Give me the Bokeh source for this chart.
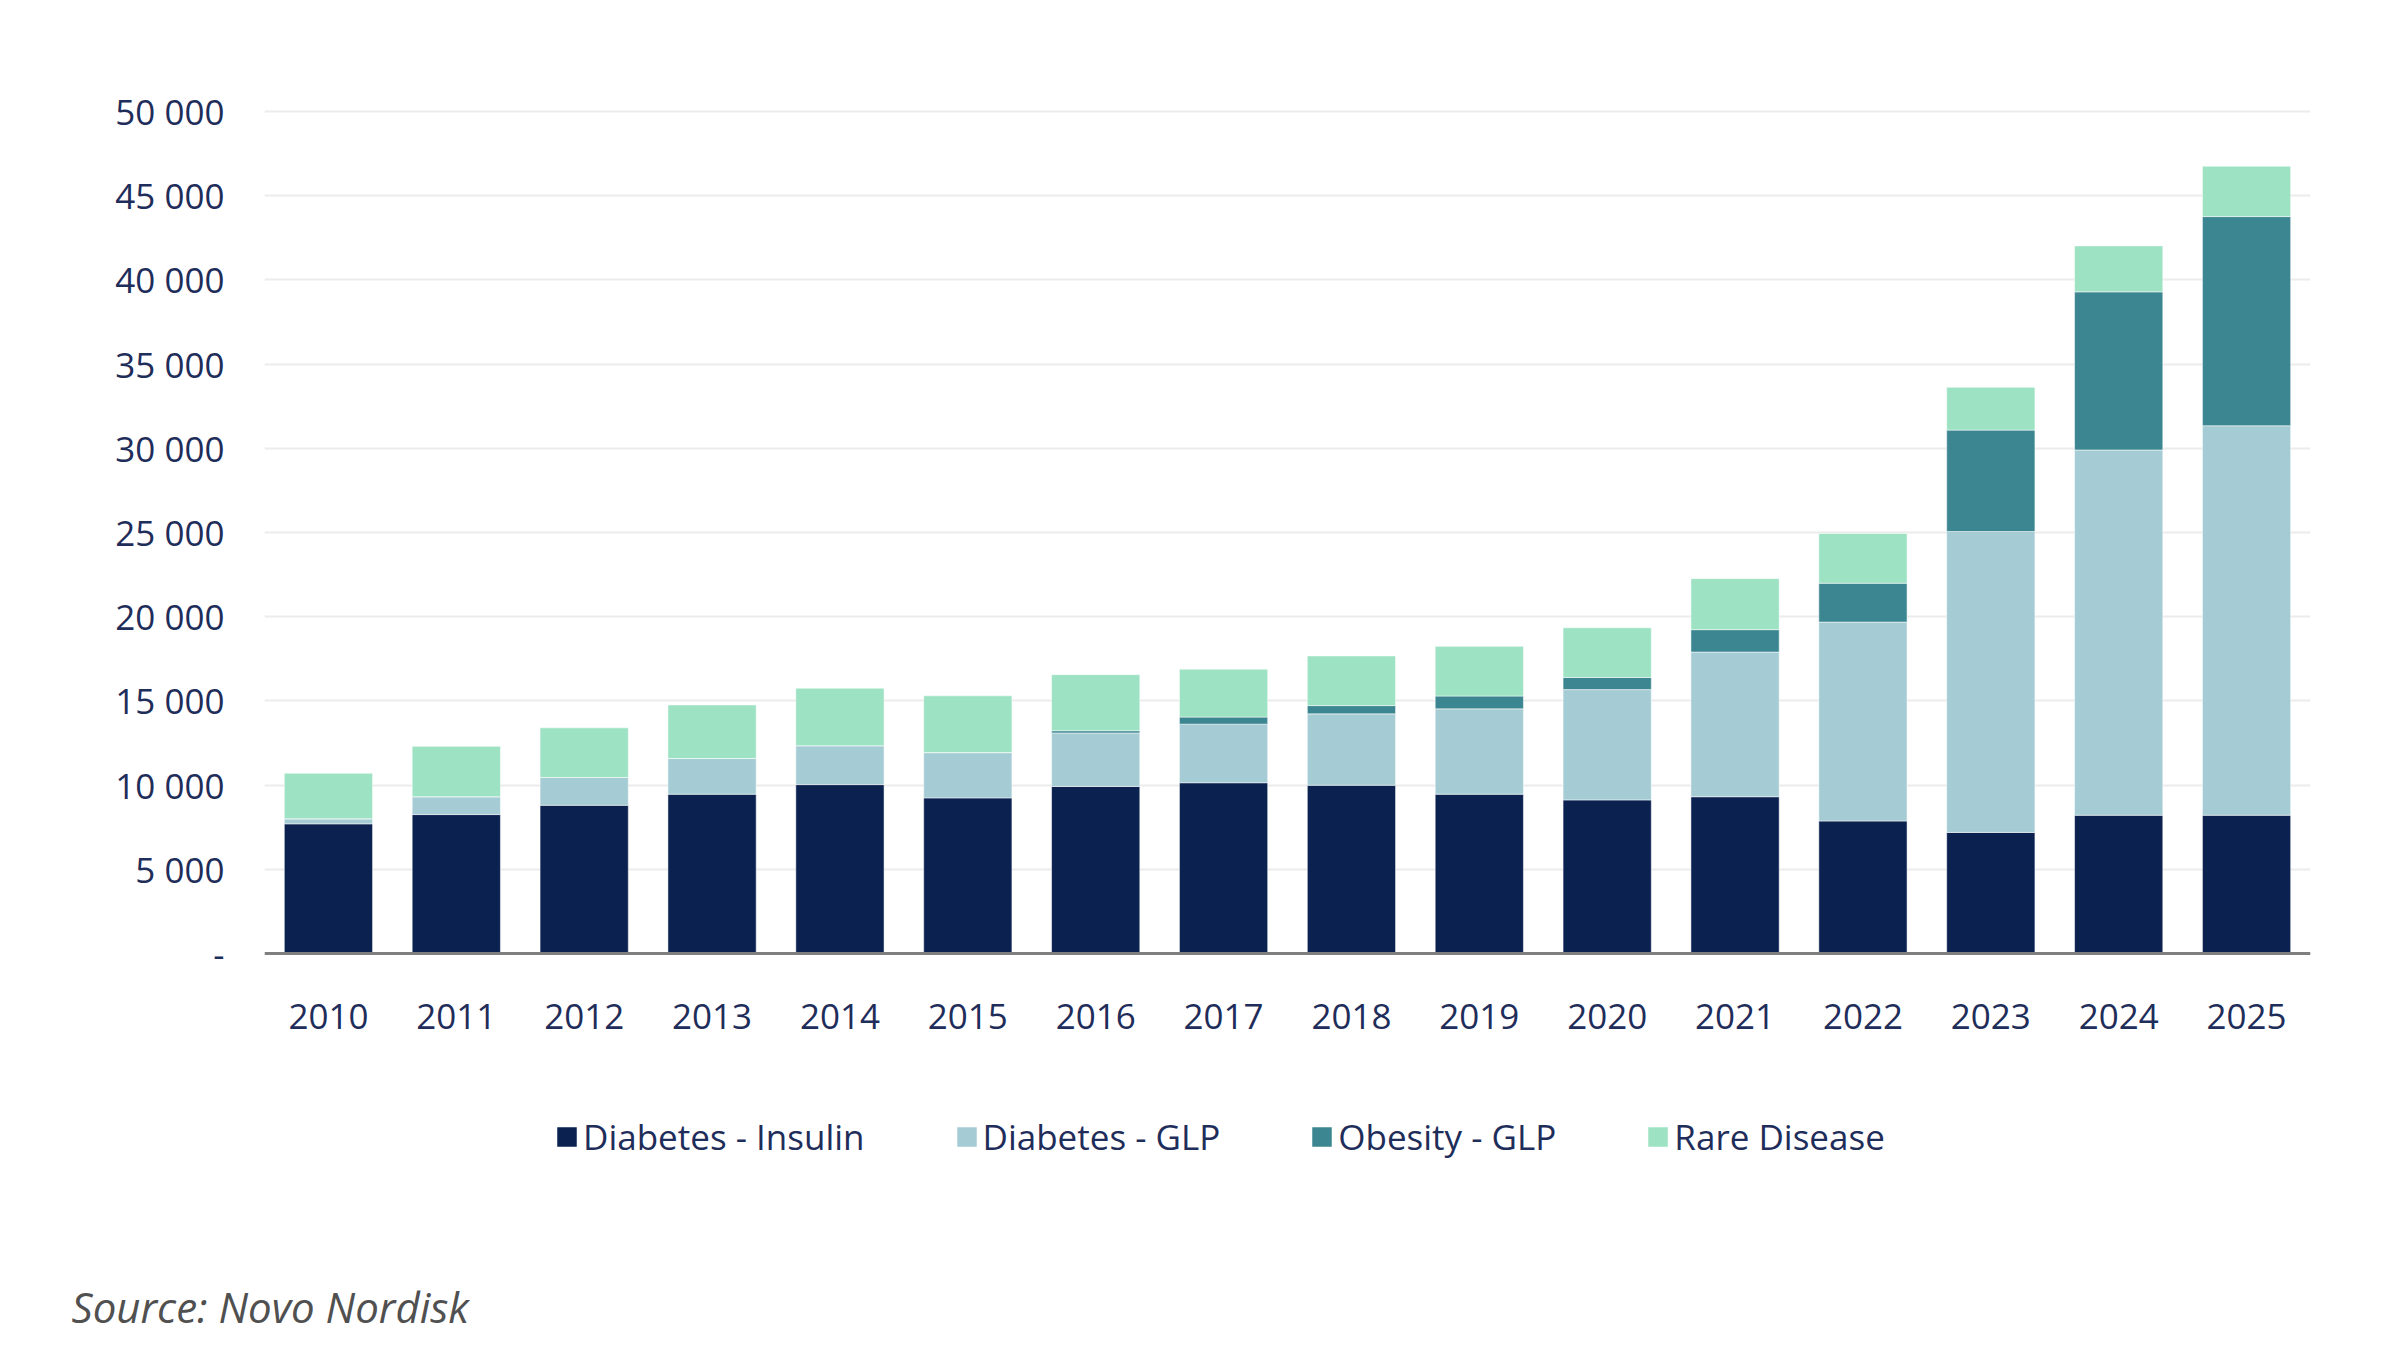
from bokeh.plotting import figure
from bokeh.models import FixedTicker, Range1d, Title
from bokeh.embed import file_html
from bokeh.resources import INLINE

years = ["2010", "2011", "2012", "2013", "2014", "2015", "2016", "2017",
         "2018", "2019", "2020", "2021", "2022", "2023", "2024", "2025"]
diabetes_insulin = [7700, 8250, 8800, 9460, 10030, 9240, 9920, 10140,
                    9990, 9460, 9120, 9310, 7870, 7190, 8210, 8210]
diabetes_glp = [300, 1060, 1650, 2120, 2310, 2690, 3180, 3480,
                4240, 5070, 6550, 8590, 11810, 17870, 21690, 23130]
obesity_glp = [0, 0, 0, 0, 0, 0, 130, 420,
               490, 760, 720, 1330, 2310, 6020, 9390, 12420]
rare_disease = [2700, 2990, 2950, 3180, 3410, 3370, 3330, 2840,
                2950, 2950, 2950, 3030, 2950, 2540, 2730, 2990]

series = ["Diabetes - Insulin", "Diabetes - GLP", "Obesity - GLP", "Rare Disease"]
colors = ["#0b2150", "#a5ccd4", "#3c8691", "#9ce2c3"]
y_ticks = list(range(0, 50001, 5000))
y_labels = {t: ("-" if t == 0 else f"{t:,}".replace(",", " ")) for t in y_ticks}
source_text = "Source: Novo Nordisk"

TEXT = "#1f2d5a"
FONT = "Open Sans"

# layout (pixels inside the figure)
TOP = 106            # frame top
Y_MAX_PX = 111       # where 50 000 lies
Y_ZERO_PX = 953      # where 0 lies
FRAME_BOTTOM = 1270  # frame bottom (legend sits inside the frame, below the axis)
ppu = (Y_ZERO_PX - Y_MAX_PX) / 50000.0
y_top = 50000 + (Y_MAX_PX - TOP) / ppu
y_bottom = -(FRAME_BOTTOM - Y_ZERO_PX) / ppu

data = {"year": years}
for name, vals in zip(series, [diabetes_insulin, diabetes_glp, obesity_glp, rare_disease]):
    data[name] = vals

p = figure(x_range=years, y_range=Range1d(y_bottom, y_top),
           frame_width=2046, frame_height=FRAME_BOTTOM - TOP,
           output_backend="svg", toolbar_location=None,
           min_border_left=264, min_border_right=74, min_border_top=TOP,
           min_border_bottom=0)
p.outline_line_color = None
p.background_fill_color = "white"
p.border_fill_color = "white"

p.vbar_stack(series, x="year", width=0.69, source=data, color=colors,
             line_color="white", line_width=1, line_alpha=0.5,
             legend_label=series)

p.x_range.range_padding = 0.0
p.xgrid.grid_line_color = None
p.ygrid.grid_line_color = "#ececec"
p.ygrid.grid_line_width = 2
p.ygrid.ticker = FixedTicker(ticks=y_ticks)

p.yaxis.ticker = FixedTicker(ticks=y_ticks)
p.yaxis.major_label_overrides = y_labels
p.yaxis.axis_line_color = None
p.yaxis.major_tick_line_color = None
p.yaxis.minor_tick_line_color = None
p.yaxis.major_label_standoff = 34
p.yaxis.major_label_text_font = FONT
p.yaxis.major_label_text_font_size = "35px"
p.yaxis.major_label_text_color = TEXT

p.xaxis.fixed_location = 0
p.xaxis.axis_line_color = "#7f7f7f"
p.xaxis.axis_line_width = 3
p.xaxis.major_tick_line_color = None
p.xaxis.minor_tick_line_color = None
p.xaxis.major_label_standoff = 44
p.xaxis.major_label_text_font = FONT
p.xaxis.major_label_text_font_size = "35px"
p.xaxis.major_label_text_color = TEXT

lg = p.legend[0]
lg.orientation = "horizontal"
lg.location = (290, FRAME_BOTTOM - 1160)
lg.label_text_font = FONT
lg.label_text_font_size = "35px"
lg.label_text_color = TEXT
lg.glyph_width = 25
lg.glyph_height = 25
lg.label_standoff = 4
lg.spacing = 89
lg.padding = 0
lg.margin = 0
lg.border_line_alpha = 0
lg.background_fill_alpha = 0

src = Title(text=source_text, align="left", offset=-193, standoff=10,
            text_font=FONT, text_font_style="italic", text_font_size="42px",
            text_color="#505050")
p.add_layout(src, "below")

open("out.html", "w").write(file_html(p, INLINE))
